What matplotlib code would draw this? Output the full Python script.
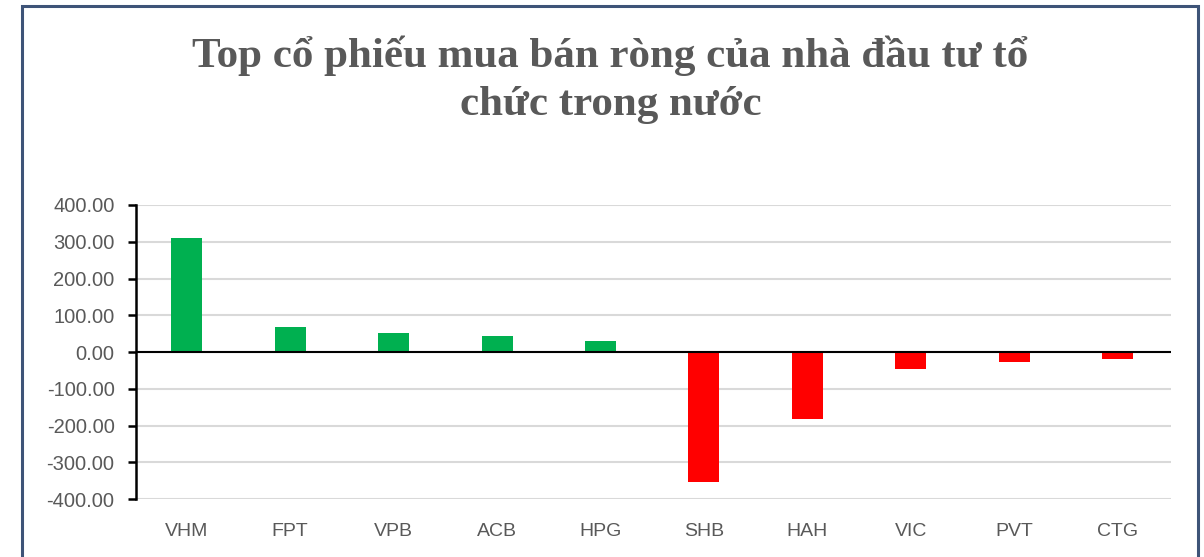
import matplotlib.pyplot as plt
from matplotlib.patches import Rectangle

# Du lieu
ma_cp = ['VHM', 'FPT', 'VPB', 'ACB', 'HPG', 'SHB', 'HAH', 'VIC', 'PVT', 'CTG']
gia_tri = [309, 69, 53, 44, 31, -353, -181, -45, -28, -20]
y_ticks = [-400, -300, -200, -100, 0, 100, 200, 300, 400]

mau = ['#00b050' if v >= 0 else '#ff0000' for v in gia_tri]

fig = plt.figure(figsize=(12.04, 5.57), dpi=100)
ax = fig.add_axes([0.113, 0.104, 0.860, 0.528])

ax.bar(range(len(ma_cp)), gia_tri, width=0.3, color=mau, zorder=3)

ax.set_xlim(-0.49, 9.52)
ax.set_ylim(-400, 400)
ax.set_yticks(y_ticks)
ax.set_yticklabels(['%.2f' % v for v in y_ticks])
ax.grid(axis='y', color='#d9d9d9', linewidth=1.5, zorder=0)
ax.axhline(0, color='black', linewidth=1.5, zorder=4)

for s in ['top', 'right', 'bottom']:
    ax.spines[s].set_visible(False)
ax.spines['left'].set_linewidth(1.8)
ax.spines['left'].set_zorder(5)

ax.set_xticks(range(len(ma_cp)))
ax.set_xticklabels(ma_cp)
ax.tick_params(axis='x', length=0, pad=17, labelsize=14, labelcolor='#595959')
ax.tick_params(axis='y', direction='out', length=5.5, width=1.8, pad=10,
               labelsize=14.5, labelcolor='#595959')
for lb in ax.get_xticklabels() + ax.get_yticklabels():
    lb.set_family('Liberation Sans')

fig.text(0.507, 0.857, 'Top cổ phiếu mua bán ròng của nhà đầu tư tổ\nchức trong nước',
         ha='center', va='center', fontsize=31, fontweight='bold',
         family='Liberation Serif', color='#595959', linespacing=1.33)

# khung vien
fig.patches.append(Rectangle((22 / 1204, -0.05), 1176 / 1204, 1 - 6 / 557 + 0.05,
                             transform=fig.transFigure, fill=False,
                             edgecolor='#3e5478', linewidth=2.2))

fig.savefig('out.png', dpi=100)
